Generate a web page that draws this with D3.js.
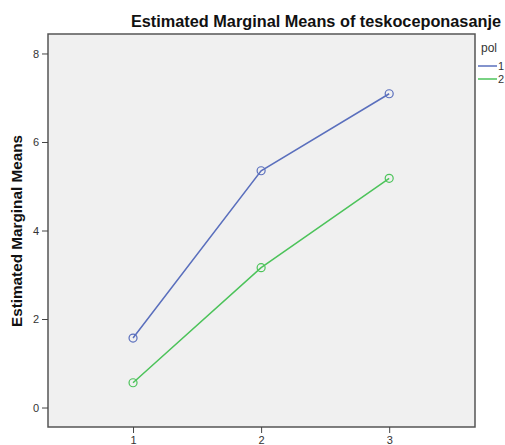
<!DOCTYPE html>
<html><head><meta charset="utf-8">
<script src="https://cdn.jsdelivr.net/npm/d3@7"></script>
<style>body{margin:0;background:#fff;} svg{display:block;font-family:Arial,"Liberation Sans",sans-serif;}</style>
</head><body>
<script>
const categories = [1, 2, 3];
const seriesNames = ["1", "2"];
const pol1 = [1.57, 5.35, 7.09];
const pol2 = [0.56, 3.16, 5.18];
const yTicks = [0, 2, 4, 6, 8];
const colors = ["#5a6fbd", "#4cc35a"];

const W = 505, H = 445;
const m = {left: 48, right: 475, top: 34, bottom: 427};
const svg = d3.select("body").append("svg").attr("width", W).attr("height", H);

const x = d3.scaleLinear().domain([0.336, 3.67]).range([m.left, m.right]);
const y = d3.scaleLinear().domain([-0.44, 8.44]).range([m.bottom, m.top]);

svg.append("rect").attr("x", m.left).attr("y", m.top)
  .attr("width", m.right - m.left).attr("height", m.bottom - m.top)
  .attr("fill", "#f0f0f0").attr("stroke", "#555").attr("stroke-width", 1.5);

const yAxis = svg.append("g").attr("transform", `translate(${m.left},0)`)
  .call(d3.axisLeft(y).tickValues(yTicks).tickSize(6).tickPadding(3).tickFormat(d3.format("d")));
const xAxis = svg.append("g").attr("transform", `translate(0,${m.bottom})`)
  .call(d3.axisBottom(x).tickValues(categories).tickSize(6).tickPadding(3).tickFormat(d3.format("d")));
[yAxis, xAxis].forEach(a => {
  a.select(".domain").remove();
  a.selectAll("line").attr("stroke", "#444");
  a.selectAll("text").attr("fill", "#333").style("font-size", "11px");
});

const series = [pol1, pol2];
const line = d3.line().x((d, i) => x(categories[i])).y(d => y(d));
series.forEach((s, k) => {
  svg.append("path").datum(s).attr("d", line).attr("fill", "none")
    .attr("stroke", colors[k]).attr("stroke-width", 1.5);
  svg.selectAll(null).data(s).enter().append("circle")
    .attr("cx", (d, i) => x(categories[i])).attr("cy", d => y(d)).attr("r", 4)
    .attr("fill", "none").attr("stroke", colors[k]).attr("stroke-width", 1.2);
});

svg.append("text").attr("x", 501).attr("y", 26.5).attr("text-anchor", "end")
  .style("font-size", "16.3px").style("font-weight", "bold").attr("fill", "#111")
  .text("Estimated Marginal Means of teskoceponasanje");

svg.append("text").attr("transform", `translate(22,231) rotate(-90)`)
  .attr("text-anchor", "middle").style("font-size", "15.3px").style("font-weight", "bold").attr("fill", "#111")
  .text("Estimated Marginal Means");

svg.append("text").attr("x", 481).attr("y", 52).style("font-size", "12px").attr("fill", "#333").text("pol");
seriesNames.forEach((n, k) => {
  const ly = 66 + k * 13;
  svg.append("line").attr("x1", 478).attr("x2", 497).attr("y1", ly).attr("y2", ly)
    .attr("stroke", colors[k]).attr("stroke-width", 1.5);
  svg.append("text").attr("x", 498).attr("y", ly + 4).style("font-size", "11px").attr("fill", "#333").text(n);
});
</script>
</body></html>
